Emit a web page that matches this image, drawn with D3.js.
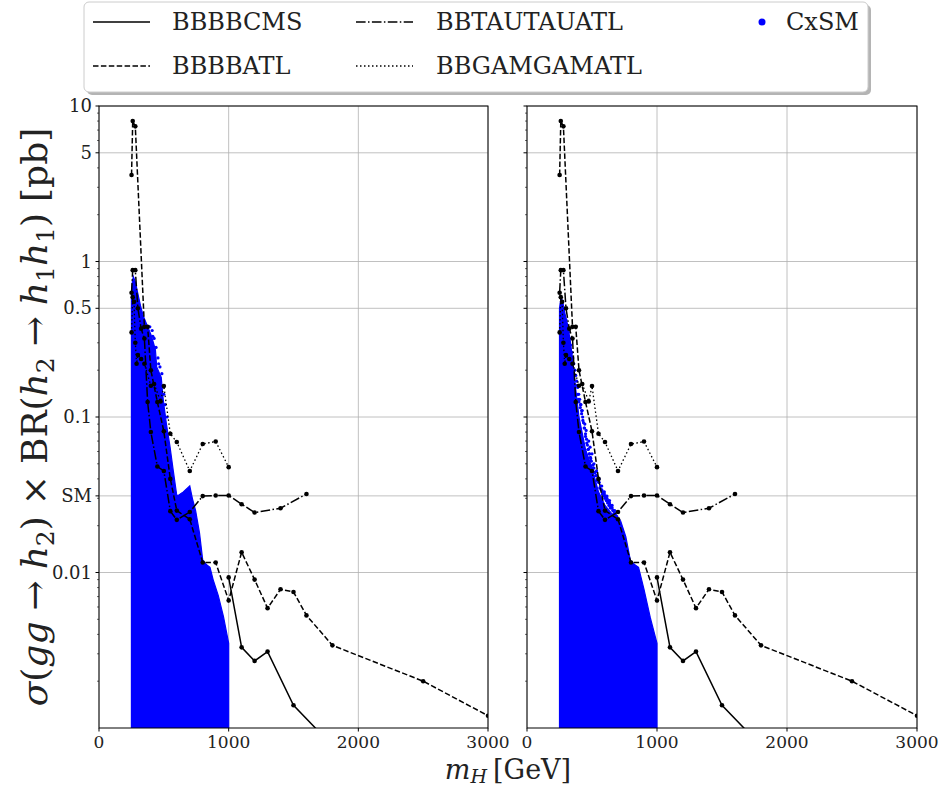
<!DOCTYPE html>
<html>
<head>
<meta charset="utf-8">
<script src="https://cdn.jsdelivr.net/npm/d3@7"></script>
<style>
  html, body { margin: 0; padding: 0; background: #fff; }
  svg { display: block; }
</style>
</head>
<body>
<svg id="chart" width="940" height="790"></svg>
<script>
// ---------------- DATA ----------------
const xTicks = [0, 1000, 2000, 3000];
const yTickValues = [10, 5, 1, 0.5, 0.1, 0.0311, 0.01];
const yTickLabels = ["10", "5", "1", "0.5", "0.1", "SM", "0.01"];

// BBBBCMS (solid)
const cmsMass = [1000, 1100, 1200, 1300, 1500, 1750];
const cmsXsec = [0.0093, 0.0033, 0.0027, 0.0031, 0.0014, 0.00085];

// BBBBATL (dashed)
const atlBBBBMass = [251, 260, 280, 350, 375, 400, 450, 500, 550, 600, 700, 800, 900, 1000, 1100, 1200, 1300, 1400, 1500, 1600, 1800, 2500, 3000];
const atlBBBBXsec = [3.6, 8.0, 7.4, 0.38, 0.38, 0.2, 0.125, 0.081, 0.04, 0.025, 0.022, 0.0116, 0.0116, 0.0066, 0.0135, 0.009, 0.0059, 0.0078, 0.0075, 0.0053, 0.0034, 0.002, 0.0012];

// BBTAUTAUATL (dash-dot)
const tautauMass = [251, 260, 280, 300, 325, 350, 375, 400, 450, 500, 550, 600, 700, 800, 900, 1000, 1100, 1200, 1400, 1600];
const tautauXsec = [0.63, 0.88, 0.88, 0.5, 0.37, 0.32, 0.125, 0.08, 0.048, 0.045, 0.0248, 0.0218, 0.0245, 0.031, 0.0313, 0.0313, 0.0275, 0.0243, 0.0259, 0.032];

// BBGAMGAMATL (dotted)
const gamgamMass = [251, 260, 270, 280, 290, 300, 325, 350, 400, 425, 475, 500, 550, 600, 700, 800, 900, 1000];
const gamgamXsec = [0.35, 0.59, 0.55, 0.3, 0.22, 0.25, 0.236, 0.22, 0.159, 0.163, 0.126, 0.158, 0.078, 0.069, 0.045, 0.067, 0.0695, 0.0476];

// CxSM scan: upper envelope of the dense point cloud (left panel)
const cxsmLeftMass  = [250, 258, 265, 280, 300, 320, 340, 370, 400, 420, 435, 445, 480, 495, 520, 547, 573, 598, 605, 650, 700, 720, 745, 775, 800, 830, 856, 880, 920, 960, 1000];
const cxsmLeftUpper = [0.6, 0.75, 0.8, 0.74, 0.62, 0.52, 0.45, 0.39, 0.34, 0.3, 0.27, 0.21, 0.18, 0.13, 0.09, 0.065, 0.045, 0.032, 0.031, 0.033, 0.036, 0.03, 0.025, 0.018, 0.012, 0.0112, 0.0108, 0.009, 0.0071, 0.0052, 0.0035];
const cxsmLeftSparseMass = [410, 425, 440, 455, 470, 485, 392, 415, 460, 500, 510, 525];
const cxsmLeftSparseXsec = [0.36, 0.32, 0.28, 0.24, 0.21, 0.19, 0.38, 0.33, 0.22, 0.14, 0.12, 0.1];

// CxSM scan (right panel): dense envelope plus sparse points above it
const cxsmRightMass  = [250, 262, 275, 290, 310, 330, 350, 375, 400, 450, 500, 550, 600, 650, 700, 720, 760, 795, 830, 858, 900, 949, 1000];
const cxsmRightUpper = [0.5, 0.59, 0.55, 0.47, 0.4, 0.32, 0.24, 0.15, 0.1, 0.062, 0.047, 0.033, 0.027, 0.024, 0.022, 0.0215, 0.017, 0.012, 0.0112, 0.0108, 0.0078, 0.0051, 0.0035];
const cxsmRightSparseMass = [300, 310, 318, 325, 335, 345, 352, 360, 368, 375, 382, 390, 398, 405, 412, 420, 428, 435, 442, 450, 458, 465, 472, 480, 488, 495, 505, 515, 525, 535, 545, 555, 565, 575, 585, 595, 605, 615, 625, 635, 645, 655, 665, 675, 690, 705,
  390, 410, 430, 450, 470, 490, 510, 530, 550, 570, 590, 610, 630, 650, 670, 400, 420, 440, 460, 480, 520, 540, 560, 580, 600, 620, 640, 660, 680,
  385, 395, 415, 425, 445, 455, 475, 485, 500, 515, 535, 555, 575, 595, 615, 635, 655, 675];
const cxsmRightSparseXsec = [0.42, 0.38, 0.35, 0.32, 0.29, 0.26, 0.24, 0.22, 0.2, 0.185, 0.17, 0.155, 0.14, 0.13, 0.12, 0.11, 0.1, 0.092, 0.085, 0.078, 0.072, 0.066, 0.062, 0.058, 0.055, 0.052, 0.049, 0.047, 0.044, 0.042, 0.04, 0.038, 0.036, 0.034, 0.033, 0.032, 0.031, 0.03, 0.029, 0.028, 0.027, 0.026, 0.025, 0.024, 0.023, 0.022,
  0.14, 0.115, 0.095, 0.075, 0.062, 0.054, 0.047, 0.042, 0.038, 0.034, 0.031, 0.029, 0.027, 0.026, 0.024, 0.125, 0.105, 0.085, 0.068, 0.058, 0.044, 0.039, 0.035, 0.032, 0.03, 0.028, 0.026, 0.025, 0.0235,
  0.16, 0.13, 0.12, 0.11, 0.09, 0.082, 0.07, 0.064, 0.058, 0.05, 0.045, 0.04, 0.036, 0.033, 0.031, 0.029, 0.027, 0.025];

const legendItems = ["BBBBCMS", "BBBBATL", "BBTAUTAUATL", "BBGAMGAMATL", "CxSM"];

// ---------------- DRAW ----------------
const FONT = "DejaVu Serif";
const svg = d3.select("#chart").style("font-family", FONT);
const yTop = 106, yBottom = 728;
const blue = "#0000ff";

const y = d3.scaleLog().domain([0.001, 10]).range([yBottom, yTop]);

const series = [
  { m: cmsMass, v: cmsXsec, dash: null, w: 1.5 },
  { m: atlBBBBMass, v: atlBBBBXsec, dash: "5.5,2.4", w: 1.5 },
  { m: tautauMass, v: tautauXsec, dash: "9.6,2.4,1.5,2.4", w: 1.5 },
  { m: gamgamMass, v: gamgamXsec, dash: "1.5,2.5", w: 1.3 }
];

const panels = [
  { x0: 99, x1: 488, env: [cxsmLeftMass, cxsmLeftUpper], sparse: [cxsmLeftSparseMass, cxsmLeftSparseXsec], labels: true },
  { x0: 527, x1: 917, env: [cxsmRightMass, cxsmRightUpper], sparse: [cxsmRightSparseMass, cxsmRightSparseXsec], labels: false }
];

const minorVals = [];
[-3, -2, -1, 0].forEach(k => { for (let i = 2; i <= 9; i++) minorVals.push(i * Math.pow(10, k)); });

panels.forEach((p, pi) => {
  const x = d3.scaleLinear().domain([0, 3000]).range([p.x0, p.x1]);
  const g = svg.append("g");

  const cid = "clip" + pi;
  svg.append("clipPath").attr("id", cid).append("rect")
    .attr("x", p.x0).attr("y", yTop).attr("width", p.x1 - p.x0).attr("height", yBottom - yTop);

  const grid = g.append("g").attr("stroke", "#b0b0b0").attr("stroke-width", 0.8);
  yTickValues.forEach(v => {
    grid.append("line").attr("x1", p.x0).attr("x2", p.x1).attr("y1", y(v)).attr("y2", y(v));
  });
  xTicks.forEach(t => {
    grid.append("line").attr("x1", x(t)).attr("x2", x(t)).attr("y1", yTop).attr("y2", yBottom);
  });

  const plot = g.append("g").attr("clip-path", `url(#${cid})`);

  const envData = p.env[0].map((m, i) => [m, p.env[1][i]]);
  const area = d3.area()
    .x(d => x(d[0]))
    .y0(y(0.001) + 2)
    .y1(d => y(d[1]));
  plot.append("path").datum(envData).attr("d", area).attr("fill", blue).attr("stroke", blue).attr("stroke-width", 1.2);

  plot.append("g").selectAll("circle").data(p.sparse[0].map((m, i) => [m, p.sparse[1][i]]))
    .join("circle").attr("cx", d => x(d[0])).attr("cy", d => y(d[1])).attr("r", 1.6).attr("fill", blue);

  series.forEach(s => {
    const data = s.m.map((m, i) => [m, s.v[i]]);
    const line = d3.line().x(d => x(d[0])).y(d => y(d[1]));
    plot.append("path").datum(data).attr("d", line).attr("fill", "none")
      .attr("stroke", "#000").attr("stroke-width", s.w)
      .attr("stroke-dasharray", s.dash);
    plot.append("g").selectAll("circle").data(data).join("circle")
      .attr("cx", d => x(d[0])).attr("cy", d => y(d[1])).attr("r", 2.3).attr("fill", "#000");
  });

  g.append("rect").attr("x", p.x0).attr("y", yTop).attr("width", p.x1 - p.x0).attr("height", yBottom - yTop)
    .attr("fill", "none").attr("stroke", "#000").attr("stroke-width", 1);

  const yt = g.append("g").attr("stroke", "#000");
  yTickValues.forEach(v => {
    yt.append("line").attr("x1", p.x0 - 3.5).attr("x2", p.x0).attr("y1", y(v)).attr("y2", y(v)).attr("stroke-width", 1);
  });
  minorVals.forEach(v => {
    if (v === 5 || v === 0.5) return;
    yt.append("line").attr("x1", p.x0 - 2).attr("x2", p.x0).attr("y1", y(v)).attr("y2", y(v)).attr("stroke-width", 0.6);
  });
  if (p.labels) {
    yTickValues.forEach((v, i) => {
      g.append("text").attr("x", p.x0 - 7).attr("y", y(v)).attr("dy", "0.34em")
        .attr("text-anchor", "end").attr("font-size", 18).attr("fill", "#222").text(yTickLabels[i]);
    });
  }

  xTicks.forEach(t => {
    g.append("line").attr("x1", x(t)).attr("x2", x(t)).attr("y1", yBottom).attr("y2", yBottom + 3.5)
      .attr("stroke", "#000").attr("stroke-width", 1);
    g.append("text").attr("x", x(t)).attr("y", yBottom + 20).attr("text-anchor", "middle")
      .attr("font-size", 17).attr("fill", "#222").text(t);
  });
});

// y-axis label with math-like spacing around operators, stretched to the reference length
const yl = svg.append("text").attr("transform", "translate(47,417) rotate(-90)")
  .attr("text-anchor", "middle").attr("font-size", 36).attr("fill", "#222");
const parts = [
  ["σ", "i", 0], ["(", "n", 0], ["gg", "i", 0], ["→", "n", 1], ["h", "i", 1], ["2", "s", 0], [")", "n", 0],
  ["×", "n", 1], ["BR(", "n", 1], ["h", "i", 0], ["2", "s", 0], ["→", "n", 1], ["h", "i", 1], ["1", "s", 0],
  ["h", "i", 0], ["1", "s", 0], [")", "n", 0], ["[pb]", "n", 1]
];
let sub = false;
const gapSpans = [];
parts.forEach(([t, k, gap]) => {
  const ts = yl.append("tspan").text(t);
  let d = 0;
  if (k === "i") ts.attr("font-style", "italic");
  if (k === "s") { ts.attr("font-size", 25); if (!sub) { d = 7; sub = true; } }
  else if (sub) { d = -7; sub = false; }
  if (d) ts.attr("dy", d);
  if (gap) gapSpans.push(ts);
});
const natural = yl.node().getComputedTextLength();
const extra = Math.min(11, Math.max(0, (612 - natural) / gapSpans.length));
gapSpans.forEach(ts => ts.attr("dx", extra));

const xl = svg.append("text").attr("x", 508).attr("y", 779).attr("text-anchor", "middle")
  .attr("font-size", 27).attr("fill", "#222");
xl.append("tspan").attr("font-style", "italic").text("m");
xl.append("tspan").attr("font-style", "italic").attr("font-size", 19).attr("dy", 4).text("H");
xl.append("tspan").attr("dy", -4).attr("dx", 6).text("[GeV]");

const lg = svg.append("g");
lg.append("rect").attr("x", 87).attr("y", 5).attr("width", 784).attr("height", 90).attr("rx", 5)
  .attr("fill", "#777").attr("opacity", 0.55);
lg.append("rect").attr("x", 84).attr("y", 2).attr("width", 784).attr("height", 90).attr("rx", 5)
  .attr("fill", "#fff").attr("stroke", "#cccccc").attr("stroke-width", 1);

const legendPos = [
  { hx: 93, tx: 172, yy: 22, dash: null, w: 1.5 },
  { hx: 93, tx: 172, yy: 66, dash: "5.5,2.4", w: 1.5 },
  { hx: 356, tx: 436, yy: 22, dash: "9.6,2.4,1.5,2.4", w: 1.5 },
  { hx: 356, tx: 436, yy: 66, dash: "1.5,2.5", w: 1.3 },
  { hx: null, tx: 786, yy: 22 }
];
legendItems.forEach((name, i) => {
  const L = legendPos[i];
  if (L.hx !== null) {
    lg.append("line").attr("x1", L.hx).attr("x2", L.hx + 57).attr("y1", L.yy).attr("y2", L.yy)
      .attr("stroke", "#000").attr("stroke-width", L.w).attr("stroke-dasharray", L.dash);
  } else {
    lg.append("circle").attr("cx", 762).attr("cy", L.yy).attr("r", 3.5).attr("fill", blue);
  }
  lg.append("text").attr("x", L.tx).attr("y", L.yy).attr("dy", "0.35em").attr("font-size", 24)
    .attr("fill", "#222").text(name);
});
</script>
</body>
</html>
